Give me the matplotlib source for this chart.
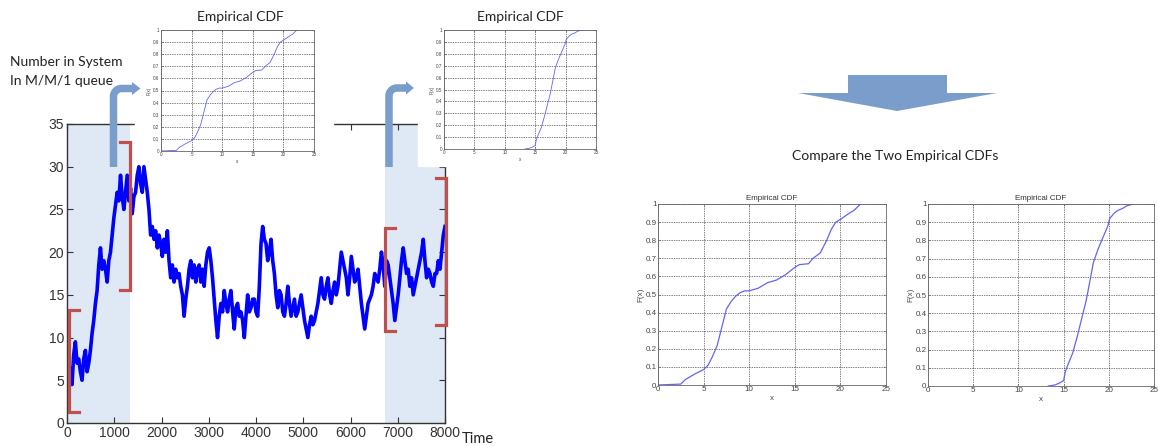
import numpy as np
import matplotlib
matplotlib.use("Agg")
import matplotlib.pyplot as plt
from matplotlib.patches import Rectangle, Polygon

plt.rcParams['font.family'] = ['Liberation Sans', 'DejaVu Sans']

W, H = 1158, 446

# number in system of the M/M/1 queue, read every ~35 time units from 0 to 8000
n_system = [
    1.5, 5, 6.5, 4.5, 8, 9.5, 7, 7.5, 6, 5, 7.5, 8.5, 6, 7,
    8.5, 10.5, 12, 14, 15.5, 18.5, 20.5, 18, 19, 18, 16.5, 19, 20, 22, 24, 25.5,
    27, 26, 29, 26.5, 25, 27, 29, 26, 27.5, 24.5, 26.5, 27, 29, 30, 28, 27,
    30, 28.5, 27, 25, 22, 23, 21.5, 22.5, 20.5, 22, 21, 19.5, 21.5, 20, 22.5, 19,
    17, 18.5, 16.5, 18, 17, 17.5, 16, 15, 12.5, 14.5, 16, 18, 19, 17, 18.5, 16.5,
    18, 18.5, 16.5, 18, 16, 18.5, 20, 20.5, 19, 17, 14.5, 12, 10, 12.5, 14, 13,
    15.5, 14, 13, 14.5, 15.5, 13, 11, 13.5, 14, 12.5, 13, 12, 10, 12.5, 15, 13,
    13.5, 14.5, 14.5, 13, 12.5, 16, 21, 23, 21.5, 21, 19, 20, 21.5, 19, 17.5, 15,
    13.5, 15.5, 15, 13, 12.5, 14, 16, 14, 12.5, 13.5, 14.5, 12.5, 13, 14, 15, 13.5,
    12, 11, 10, 11.5, 12.5, 11.5, 12, 13, 14, 15.5, 17, 15, 14.5, 16, 17, 15,
    14, 15.5, 16.5, 15, 16, 18, 20, 19, 18, 17, 15, 17, 19.5, 18, 16.5, 17,
    18, 16, 14, 12.5, 11, 12.5, 14, 14.5, 15, 16, 17.5, 17, 16.5, 18, 20, 18.5,
    16, 19, 18.5, 17, 15.5, 14, 12, 13.5, 15, 17, 19, 20.5, 19, 17.5, 18, 16,
    17, 15, 16, 17, 18, 19, 20, 21.5, 19, 17, 18, 17.5, 16.5, 16, 17.5, 17.5,
    19, 18, 20, 22, 23,
]
t_end = 8000

# empirical CDF of the first window
cdf1_x = [0, 2.5, 3, 4, 5, 5.5, 6, 6.5, 7, 7.5, 8, 8.5, 9, 9.5, 10, 11, 12, 13,
          14, 15, 15.5, 16.5, 17, 17.8, 18.5, 19, 19.5, 20, 21, 21.5, 22.2]
cdf1_f = [0, 0.005, 0.03, 0.06, 0.085, 0.11, 0.16, 0.22, 0.32, 0.42, 0.46, 0.49,
          0.51, 0.52, 0.52, 0.535, 0.565, 0.58, 0.61, 0.65, 0.665, 0.67, 0.70,
          0.73, 0.80, 0.86, 0.90, 0.915, 0.95, 0.965, 1.0]

# empirical CDF of the last window
cdf2_x = [13.3, 14, 14.5, 15, 15.2, 15.5, 16, 16.5, 17, 17.5, 18, 18.3, 18.8,
          19.3, 19.9, 20.1, 20.6, 21, 21.5, 22, 22.7]
cdf2_f = [0, 0.005, 0.015, 0.03, 0.08, 0.12, 0.18, 0.27, 0.37, 0.47, 0.6, 0.68,
          0.75, 0.81, 0.88, 0.92, 0.95, 0.965, 0.975, 0.99, 1.0]

# sampling windows (time) and the brackets: x, low, high, end of the serifs
windows = [(0, 1333), (6730, 8000)]
brackets = [(50, 1.3, 13.2, 250), (1333, 15.6, 32.9, 1120),
            (6730, 10.8, 22.8, 6940), (8020, 11.5, 28.7, 7800)]

arrow_col = '#7a9dcc'
red = '#c0504d'


def box(l, t, r, b):
    return [l / W, 1 - b / H, (r - l) / W, (b - t) / H]


fig = plt.figure(figsize=(W / 100, H / 100), dpi=100)

# ---- main time series
ax = fig.add_axes(box(67, 124, 445, 423))
for a, b in windows:
    ax.axvspan(a, b, color='#dfe8f5', lw=0, zorder=0)
t = np.linspace(0, t_end, len(n_system))
ax.plot(t, n_system, color='#0000ff', lw=2.6, zorder=2)
for x, lo, hi, x2 in brackets:
    ax.plot([x2, x, x, x2], [hi, hi, lo, lo], color=red, lw=2.3,
            solid_joinstyle='miter', clip_on=False, zorder=3)
ax.set_xlim(0, 8000)
ax.set_ylim(0, 35)
ax.set_xticks(range(0, 8001, 1000))
ax.set_yticks(range(0, 36, 5))
ax.tick_params(direction='in', top=True, right=True, length=4, width=0.8,
               labelsize=10, colors='#333333', pad=2)
for lab in ax.get_xticklabels() + ax.get_yticklabels():
    lab.set_family(['Liberation Sans Narrow', 'Liberation Sans'])
for s in ax.spines.values():
    s.set_color('#333333')
    s.set_linewidth(1)

# ---- drawing layer in pixel coordinates
cv = fig.add_axes([0, 0, 1, 1], zorder=1)
cv.set_xlim(0, W)
cv.set_ylim(H, 0)
cv.axis('off')
cv.add_patch(Rectangle((135, 0), 198, 162, color='white', zorder=1))
cv.add_patch(Rectangle((418, 0), 230, 166, color='white', zorder=1))


def bent_arrow(cx, y0, cy, head_base, tip, r=8, width=7.5, half=6.5):
    th = np.linspace(np.pi, 1.5 * np.pi, 20)
    xs = np.concatenate([[cx], cx + r + r * np.cos(th), [head_base]])
    ys = np.concatenate([[y0], cy + r + r * np.sin(th), [cy]])
    cv.plot(xs, ys, color=arrow_col, lw=width * 0.72, solid_capstyle='butt',
            zorder=3)
    cv.add_patch(Polygon([(head_base, cy - half), (tip, cy), (head_base, cy + half)],
                         color=arrow_col, lw=0, zorder=3))


bent_arrow(113.5, 167, 88.5, 132, 140.5)
bent_arrow(389, 167, 88, 406, 414)

cv.add_patch(Polygon([(848, 75), (947, 75), (947, 93), (997, 93), (897, 111),
                      (798, 93), (848, 93)], color=arrow_col, lw=0, zorder=3))

txt = dict(family='Lato', color='#222222', va='center')
cv.text(10, 62, 'Number in System', fontsize=10, **txt)
cv.text(10, 81, 'In M/M/1 queue', fontsize=10, **txt)
cv.text(240, 17, 'Empirical CDF', fontsize=10, ha='center', **txt)
cv.text(520, 17, 'Empirical CDF', fontsize=10, ha='center', **txt)
cv.text(895, 156, 'Compare the Two Empirical CDFs', fontsize=10, ha='center', **txt)
cv.text(462, 439, 'Time', fontsize=10.5, **txt)


def cdf_axes(rect, xs, fs, size, lw, title=None, z=0):
    a = fig.add_axes(rect, zorder=z)
    a.plot(xs, fs, color='#6464f0', lw=lw)
    a.set_xlim(0, 25)
    a.set_ylim(0, 1)
    a.set_xticks(range(0, 26, 5))
    a.set_yticks(np.round(np.arange(0, 1.01, 0.1), 1))
    a.set_yticklabels(['0'] + ['%.1f' % v for v in np.arange(0.1, 0.95, 0.1)] + ['1'])
    a.grid(True, color='black', linestyle=(0, (1, 1.5)), lw=0.5)
    a.tick_params(direction='in', top=True, right=True, length=1.5, width=0.4,
                  labelsize=size, colors='#444444', pad=1)
    for s in a.spines.values():
        s.set_color('#666666')
        s.set_linewidth(0.6)
    a.set_xlabel('x', fontsize=size, color='#444444', labelpad=1)
    a.set_ylabel('F(x)', fontsize=size, color='#444444', labelpad=1)
    if title:
        a.set_title(title, fontsize=size, color='#333333', pad=3)
    return a


cdf_axes(box(161, 30, 314, 151), cdf1_x, cdf1_f, 3.3, 0.6, z=2)
cdf_axes(box(444, 30, 596, 149), cdf2_x, cdf2_f, 3.3, 0.6, z=2)
cdf_axes(box(658, 204, 886, 385), cdf1_x, cdf1_f, 5.8, 0.9, 'Empirical CDF')
cdf_axes(box(928, 204, 1154, 386), cdf2_x, cdf2_f, 5.8, 0.9, 'Empirical CDF')

fig.savefig('out.png', dpi=100)
